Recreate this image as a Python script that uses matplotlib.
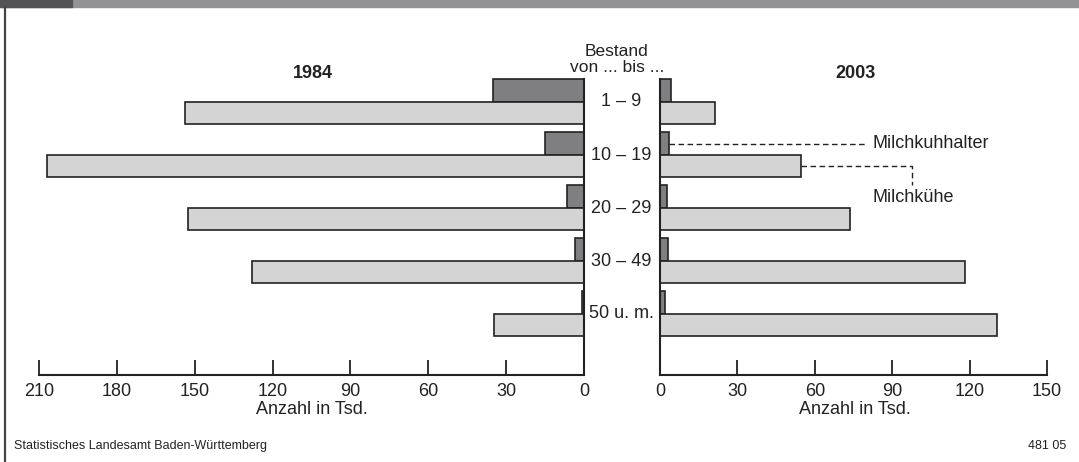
import numpy as np
import matplotlib
matplotlib.use('Agg')
import matplotlib.pyplot as plt
from matplotlib.patches import Rectangle
from matplotlib.lines import Line2D

plt.rcParams['font.family'] = ['Liberation Sans', 'DejaVu Sans']

# data (in thousand)
categories = ['1 – 9', '10 – 19', '20 – 29', '30 – 49', '50 u. m.']
halter_1984 = [35.0, 15.0, 6.5, 3.5, 0.7]
kuehe_1984 = [153.7, 207.0, 152.5, 127.8, 34.7]
halter_2003 = [4.3, 3.5, 2.8, 3.1, 2.0]
kuehe_2003 = [21.3, 54.5, 73.6, 118.2, 130.6]
ticks_1984 = [210, 180, 150, 120, 90, 60, 30, 0]
ticks_2003 = [0, 30, 60, 90, 120, 150]

W, H = 1079, 462
DARK = '#7f7f81'
LIGHT = '#d4d4d5'
EDGE = '#222222'


def px(x, y):
    return x / W, 1 - y / H


def make_axes(fig, x0, x1, y0=70, y1=375):
    return fig.add_axes([x0 / W, 1 - y1 / H, (x1 - x0) / W, (y1 - y0) / H])


fig = plt.figure(figsize=(W / 100, H / 100), dpi=100)

# header band and left frame line
fig.patches.append(Rectangle((0, 1 - 7 / H), 1, 7 / H, transform=fig.transFigure,
                             color='#939396', zorder=0))
fig.patches.append(Rectangle((0, 1 - 7 / H), 72 / W, 7 / H, transform=fig.transFigure,
                             color='#535355', zorder=1))
fig.lines.append(Line2D([4.5 / W, 4.5 / W], [0, 1 - 7 / H], transform=fig.transFigure,
                        color='#444444', lw=1.6))

ax_l = make_axes(fig, 39, 584)
ax_r = make_axes(fig, 660, 1047)

pos = np.arange(len(categories))
h_dark = 23 / 53
h_light = 22 / 53
ylim = ((375 - 102) / 53, (70 - 102) / 53)

for ax, halter, kuehe, ticks, xlim in [
        (ax_l, halter_1984, kuehe_1984, ticks_1984, (210, 0)),
        (ax_r, halter_2003, kuehe_2003, ticks_2003, (0, 150))]:
    ax.barh(pos - h_dark / 2, halter, height=h_dark, color=DARK,
            edgecolor=EDGE, linewidth=1.2, zorder=3)
    ax.barh(pos + h_light / 2, kuehe, height=h_light, color=LIGHT,
            edgecolor=EDGE, linewidth=1.2, zorder=3)
    ax.set_xlim(*xlim)
    ax.set_ylim(*ylim)
    ax.plot([0, 0], [ylim[0], -h_dark], color=EDGE, lw=1.5, zorder=4, clip_on=False)
    for s in ['top', 'left', 'right']:
        ax.spines[s].set_visible(False)
    ax.spines['bottom'].set_color(EDGE)
    ax.spines['bottom'].set_linewidth(1.5)
    ax.set_xticks(ticks)
    ax.set_xticklabels([str(t) for t in ticks], fontsize=13)
    ax.tick_params(axis='x', direction='in', length=11, width=1.3, color=EDGE,
                   pad=6, labelcolor='#222222')
    ax.set_yticks([])
    ax.set_facecolor('none')

# category labels and header in the middle
for i, c in enumerate(categories):
    y = 102 + 53 * i
    fig.text(*px(621, y), c, ha='center', va='center', fontsize=13, color='#222222')
fig.text(*px(617, 51), 'Bestand', ha='center', va='center', fontsize=12.5, color='#222222')
fig.text(*px(617, 67), 'von ... bis ...', ha='center', va='center', fontsize=12.5,
         color='#222222')

# titles
fig.text(*px(313, 74), '1984', ha='center', va='center', fontsize=13,
         fontweight='bold', color='#222222')
fig.text(*px(855, 74), '2003', ha='center', va='center', fontsize=13,
         fontweight='bold', color='#222222')

# axis titles
fig.text(*px(312, 409), 'Anzahl in Tsd.', ha='center', va='center', fontsize=13,
         color='#222222')
fig.text(*px(855, 409), 'Anzahl in Tsd.', ha='center', va='center', fontsize=13,
         color='#222222')

# annotations
y_h = 1 - h_dark / 2
y_k = 1 + h_light / 2
ax_r.plot([halter_2003[1], 79.5], [y_h, y_h], color=EDGE, lw=1, dashes=(4, 2.5),
          clip_on=False)
ax_r.plot([kuehe_2003[1], 97.7, 97.7], [y_k, y_k, 1.57], color=EDGE, lw=1,
          dashes=(4, 2.5), clip_on=False)
ax_r.text(82.2, y_h, 'Milchkuhhalter', ha='left', va='center', fontsize=13,
          color='#222222')
ax_r.text(82.2, 1.80, 'Milchkühe', ha='left', va='center', fontsize=13,
          color='#222222')

# footer
fig.text(*px(14, 446), 'Statistisches Landesamt Baden-Württemberg', ha='left',
         va='center', fontsize=9, color='#222222')
fig.text(*px(1066, 446), '481 05', ha='right', va='center', fontsize=9,
         color='#222222')

fig.savefig('out.png', dpi=100)
